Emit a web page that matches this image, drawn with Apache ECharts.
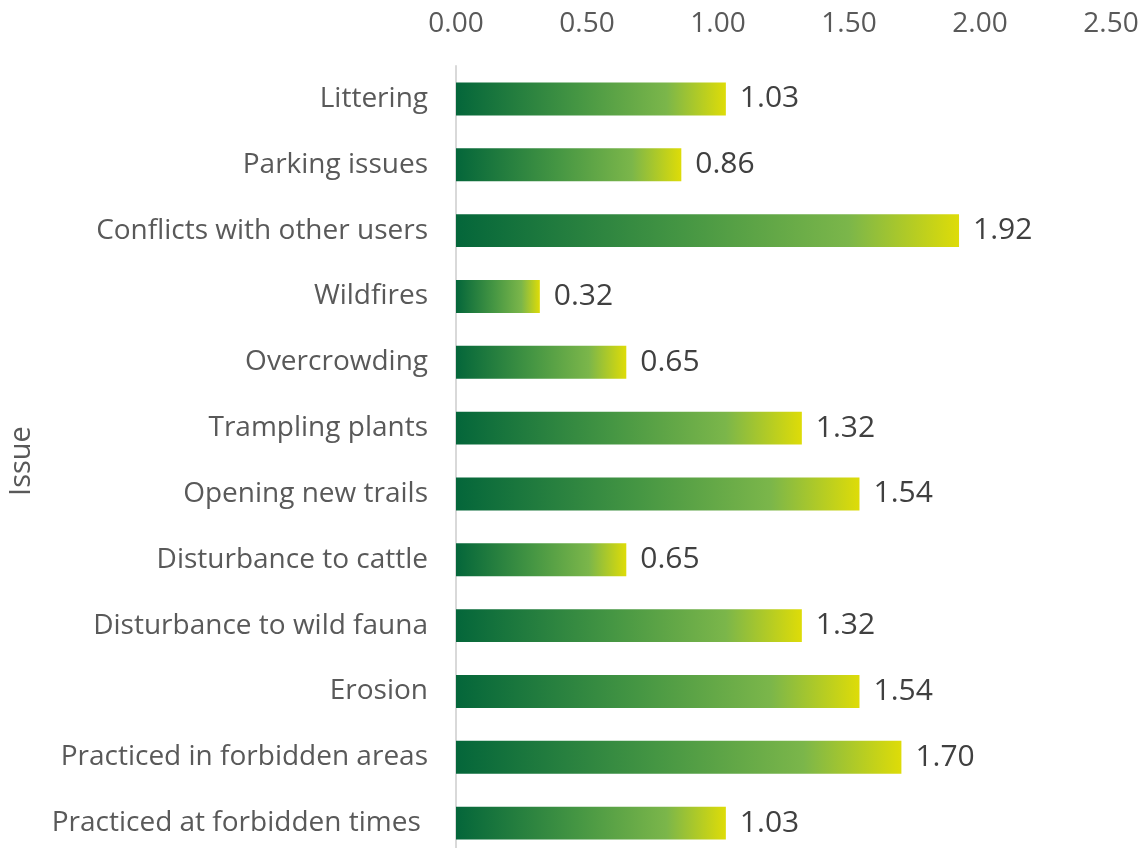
<!DOCTYPE html>
<html><head><meta charset="utf-8">
<script src="https://cdn.jsdelivr.net/npm/echarts@6/dist/echarts.min.js"></script>
<style>html,body{margin:0;padding:0;background:#fff}#c{width:1148px;height:848px}</style>
</head><body><div id="c"></div>
<script>
const categories = ["Littering","Parking issues","Conflicts with other users","Wildfires","Overcrowding","Trampling plants","Opening new trails","Disturbance to cattle","Disturbance to wild fauna","Erosion","Practiced in forbidden areas","Practiced at forbidden times "];
const values = [1.03,0.86,1.92,0.32,0.65,1.32,1.54,0.65,1.32,1.54,1.70,1.03];
const xTicks = [0,0.5,1,1.5,2,2.5];
const font = "'Open Sans', 'Noto Sans', sans-serif";
const chart = echarts.init(document.getElementById('c'));
chart.setOption({
  animation:false,
  grid:{left:456,right:37,top:66,height:790,containLabel:false,outerBoundsMode:'none'},
  xAxis:{type:'value',position:'top',min:0,max:2.5,interval:0.5,
    axisLine:{show:false},axisTick:{show:false},splitLine:{show:false},
    axisLabel:{margin:28,fontSize:28,color:'#595959',fontFamily:font,formatter:v=>v.toFixed(2)}},
  yAxis:{type:'category',inverse:true,data:categories,
    name:'Issue',nameLocation:'middle',nameGap:420,nameRotate:90,
    nameTextStyle:{fontSize:29,color:'#595959',fontFamily:font},
    axisLine:{show:true,lineStyle:{color:'#d9d9d9',width:2}},axisTick:{show:false},
    axisLabel:{margin:28,fontSize:28,color:'#595959',fontFamily:font}},
  series:[{type:'bar',data:values,barWidth:'50%',
    itemStyle:{color:new echarts.graphic.LinearGradient(0,0,1,0,[
      {offset:0,color:'#04663a'},{offset:0.45,color:'#459643'},{offset:0.78,color:'#7bb64a'},{offset:1,color:'#dedc08'}])},
    label:{show:true,position:'right',distance:14,fontSize:30,color:'#404040',fontFamily:font,formatter:p=>p.value.toFixed(2)}}]
});
</script></body></html>
